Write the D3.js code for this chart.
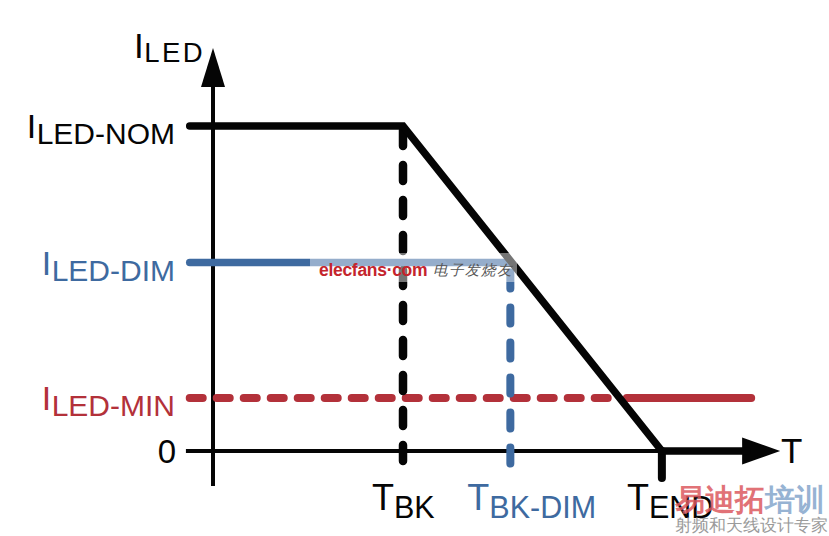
<!DOCTYPE html>
<html>
<head>
<meta charset="utf-8">
<script src="https://cdn.jsdelivr.net/npm/d3@7/dist/d3.min.js"></script>
<style>
  html, body { margin: 0; padding: 0; background: #fff; }
  svg { display: block; }
  text { font-family: "Liberation Sans", Arial, sans-serif; }
</style>
</head>
<body>
<svg id="chart" width="829" height="536"></svg>
<script>
// ---------- data (arbitrary units) ----------
const levelNames  = ["NOM", "DIM", "MIN"];     // current levels
const levelValues = [100, 58, 16.3];
const timeNames   = ["BK", "BK-DIM", "END"];   // time markers
const timeValues  = [40, 62.6, 94.5];
const axisX       = [-5.7, 119.4];            // x-axis extent (start, arrow tip)
const axisY       = [-10.8, 124];             // y-axis extent (bottom, arrow tip)
const minLineEnd  = 113.3;                    // where the I_LED-MIN line stops
const zeroLabel   = "0";
const yTitle      = ["I", "LED"];
const xTitle      = "T";

// ---------- layout ----------
const BLACK = "#050505", BLUE = "#3e6aa0", RED = "#b3313a";
const svg = d3.select("#chart");
const x = d3.scaleLinear().domain([0, 100]).range([213, 688]);
const y = d3.scaleLinear().domain([0, 100]).range([451, 126]);
const line = d3.line().x(d => x(d[0])).y(d => y(d[1]));

const nom = levelValues[0], dim = levelValues[1], mn = levelValues[2];
const tBK = timeValues[0], tBKD = timeValues[1], tEND = timeValues[2];
// point on the derating slope for a given current
const slopeT = v => tBK + (nom - v) / nom * (tEND - tBK);

// axes
svg.append("path").attr("d", line([[axisX[0], 0], [axisX[1] - 8, 0]]))
  .attr("stroke", BLACK).attr("stroke-width", 4.2).attr("fill", "none");
svg.append("path").attr("d", line([[0, axisY[0]], [0, axisY[1] - 8]]))
  .attr("stroke", BLACK).attr("stroke-width", 4).attr("fill", "none");
// arrow heads
const xa = x(axisX[1]), ya = y(0);
svg.append("path").attr("d", `M${xa},${ya} L${xa - 38},${ya - 13.5} L${xa - 38},${ya + 13.5} Z`).attr("fill", BLACK);
const yx = x(0), yt = y(axisY[1]);
svg.append("path").attr("d", `M${yx},${yt} L${yx - 12},${yt + 39} L${yx + 12},${yt + 39} Z`).attr("fill", BLACK);

// I_LED-MIN red line: dashed until the slope, then solid
const tCross = slopeT(mn);
svg.append("path").attr("d", line([[axisX[0] + 0.8, mn], [tCross, mn]]))
  .attr("stroke", RED).attr("stroke-width", 8).attr("stroke-linecap", "round")
  .attr("stroke-dasharray", "13 14").attr("fill", "none");
svg.append("path").attr("d", line([[tCross + 1.5, mn], [minLineEnd, mn]]))
  .attr("stroke", RED).attr("stroke-width", 8).attr("stroke-linecap", "round").attr("fill", "none");

// vertical dashed markers
svg.append("path").attr("d", line([[tBK, nom], [tBK, axisY[0] + 2.5]]))
  .attr("stroke", BLACK).attr("stroke-width", 8.5).attr("stroke-linecap", "round")
  .attr("stroke-dasharray", "16 19").attr("stroke-dashoffset", -4).attr("fill", "none");
svg.append("path").attr("d", line([[tBKD, dim], [tBKD, axisY[0] + 2.5]]))
  .attr("stroke", BLUE).attr("stroke-width", 8).attr("stroke-linecap", "round")
  .attr("stroke-dasharray", "16 19").attr("stroke-dashoffset", -10).attr("fill", "none");
svg.append("path").attr("d", line([[tEND, 0], [tEND, axisY[0] + 2.5]]))
  .attr("stroke", BLACK).attr("stroke-width", 8).attr("stroke-linecap", "round").attr("fill", "none");

// I_LED-DIM blue line
svg.append("path").attr("d", line([[axisX[0] + 0.8, dim], [tBKD, dim]]))
  .attr("stroke", BLUE).attr("stroke-width", 7.5).attr("stroke-linecap", "round").attr("fill", "none");

// derating curve (black thick)
svg.append("path").attr("d", line([[axisX[0] + 0.8, nom], [tBK, nom], [tEND, 0], [axisX[1] - 7, 0]]))
  .attr("stroke", BLACK).attr("stroke-width", 7.5).attr("stroke-linecap", "round")
  .attr("stroke-linejoin", "miter").attr("fill", "none");

// ---------- labels ----------
const levelColors = [BLACK, BLUE, RED];
levelNames.forEach((n, i) => {
  const t = svg.append("text").attr("x", 175).attr("y", y(levelValues[i]) + 12)
    .attr("text-anchor", "end").attr("fill", levelColors[i]);
  t.append("tspan").attr("font-size", 34).text("I");
  t.append("tspan").attr("font-size", 30).attr("dy", 6).attr("dx", 0.5).text("LED-" + n);
});
svg.append("text").attr("x", 176).attr("y", y(0) + 12).attr("text-anchor", "end")
  .attr("font-size", 33).attr("fill", BLACK).text(zeroLabel);

// y-axis title
{
  const t = svg.append("text").attr("x", 134).attr("y", y(axisY[1]) + 10).attr("fill", BLACK);
  t.append("tspan").attr("font-size", 35).text(yTitle[0]);
  t.append("tspan").attr("font-size", 27.5).attr("dy", 4).attr("dx", 0.5)
    .attr("letter-spacing", 2.5).text(yTitle[1]);
}
// x-axis title
svg.append("text").attr("x", 781).attr("y", y(0) + 12).attr("font-size", 35)
  .attr("fill", BLACK).text(xTitle);

// time labels
const timeColors = [BLACK, BLUE, BLACK];
const timeDx = [-31, -43, -35];
timeNames.forEach((n, i) => {
  const t = svg.append("text").attr("x", x(timeValues[i]) + timeDx[i]).attr("y", 510)
    .attr("fill", timeColors[i]);
  t.append("tspan").attr("font-size", 36).text("T");
  t.append("tspan").attr("font-size", 30.5).attr("dy", 8).attr("dx", 0).text(n);
});

// ---------- watermarks ----------
svg.append("rect").attr("x", 310).attr("y", 253).attr("width", 207).attr("height", 29)
  .attr("fill", "#fff").attr("opacity", 0.45);
svg.append("text").attr("x", 319).attr("y", 276).attr("font-size", 17.5)
  .attr("font-weight", "bold").attr("fill", "#c4242c").attr("letter-spacing", -0.3)
  .text("elecfans·com");
svg.append("text").attr("x", 433).attr("y", 275).attr("font-size", 14.5)
  .attr("font-family", "Noto Sans CJK SC").attr("font-style", "italic")
  .attr("fill", "#555").attr("letter-spacing", 1).text("电子发烧友");

const wm = svg.append("g").attr("opacity", 0.85);
const w1 = wm.append("text").attr("x", 675).attr("y", 510).attr("font-size", 30)
  .attr("font-family", "Noto Sans CJK SC").attr("font-weight", "bold");
w1.append("tspan").attr("fill", "#dc5a60").text("易迪拓");
w1.append("tspan").attr("fill", "#86a6cc").text("培训");
wm.append("text").attr("x", 675).attr("y", 531).attr("font-size", 16.6)
  .attr("font-family", "Noto Sans CJK SC").attr("fill", "#8a8a8a").text("射频和天线设计专家");
</script>
</body>
</html>
